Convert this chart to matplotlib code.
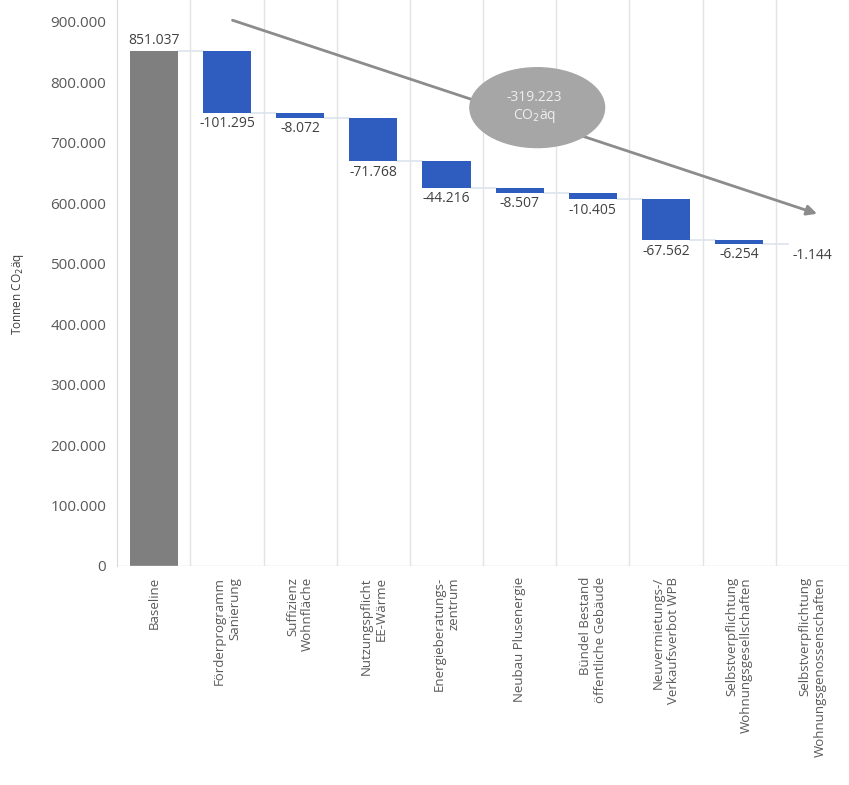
import matplotlib.pyplot as plt
from matplotlib.patches import Ellipse
from matplotlib.ticker import FuncFormatter

plt.rcParams['font.family'] = ['Open Sans', 'DejaVu Sans']

categories = ['Baseline', 'Förderprogramm\nSanierung', 'Suffizienz\nWohnfläche',
              'Nutzungspflicht\nEE-Wärme', 'Energieberatungs-\nzentrum', 'Neubau Plusenergie',
              'Bündel Bestand\nöffentliche Gebäude', 'Neuvermietungs-/\nVerkaufsverbot WPB',
              'Selbstverpflichtung\nWohnungsgesellschaften',
              'Selbstverpflichtung\nWohnungsgenossenschaften']
baseline = 851037
reductions = [-101295, -8072, -71768, -44216, -8507, -10405, -67562, -6254, -1144]
total_label = '-319.223\nCO$_2$äq'

def fmt(v):
    return f'{v:,.0f}'.replace(',', '.')

fig = plt.figure(figsize=(8.49, 7.85), dpi=100)
ax = fig.add_axes([0.138, 0.279, 0.862, 0.721])

grey = '#7f7f7f'
blue = '#2f5cbf'
tc = '#595959'

ax.bar(0, baseline, width=0.66, color=grey)
ax.text(0, baseline + 6000, fmt(baseline), ha='center', va='bottom', fontsize=10, color='#404040')

level = baseline
for i, r in enumerate(reductions, start=1):
    new = level + r
    ax.bar(i, r, bottom=level, width=0.66, color=blue)
    ax.plot([i - 1 + 0.33, i - 0.33], [level, level], color='#dce4ee', lw=1.2, zorder=0)
    ax.text(i, new - 6000, fmt(r), ha='center', va='top', fontsize=10, color='#404040')
    level = new

ax.set_xlim(-0.5, 9.5)
ax.set_ylim(0, 936000)
ax.set_yticks(range(0, 900001, 100000))
ax.yaxis.set_major_formatter(FuncFormatter(lambda v, p: fmt(v)))
ax.set_xticks(range(len(categories)))
ax.set_xticklabels(categories, rotation=90, va='top', ha='center', multialignment='right')
ax.tick_params(axis='x', length=0, labelsize=9.5, colors=tc, pad=8)
ax.tick_params(axis='y', length=0, labelsize=11, colors=tc, pad=8)
ax.set_ylabel('Tonnen CO$_2$äq', fontsize=8.5, color='#404040')
ax.yaxis.set_label_coords(-0.125, 0.48)

for s in ['top', 'right', 'bottom']:
    ax.spines[s].set_visible(False)
ax.spines['left'].set_color('#d9d9d9')
for x in range(1, 10):
    ax.axvline(x - 0.5, color='#e3e3e3', lw=1, zorder=0)
ax.axhline(0, color='#d9d9d9', lw=1)

ax.annotate('', xy=(9.1, 581000), xytext=(1.04, 904000),
            arrowprops=dict(arrowstyle='-|>', color='#8c8c8c', lw=2, mutation_scale=15))
ax.add_patch(Ellipse((5.24, 758000), 1.84, 132000, color='#a6a6a6', zorder=3))
ax.text(5.2, 758000, total_label, ha='center', va='center', color='#eeeeee', fontsize=10, zorder=4)

fig.savefig('out.png', dpi=100)
